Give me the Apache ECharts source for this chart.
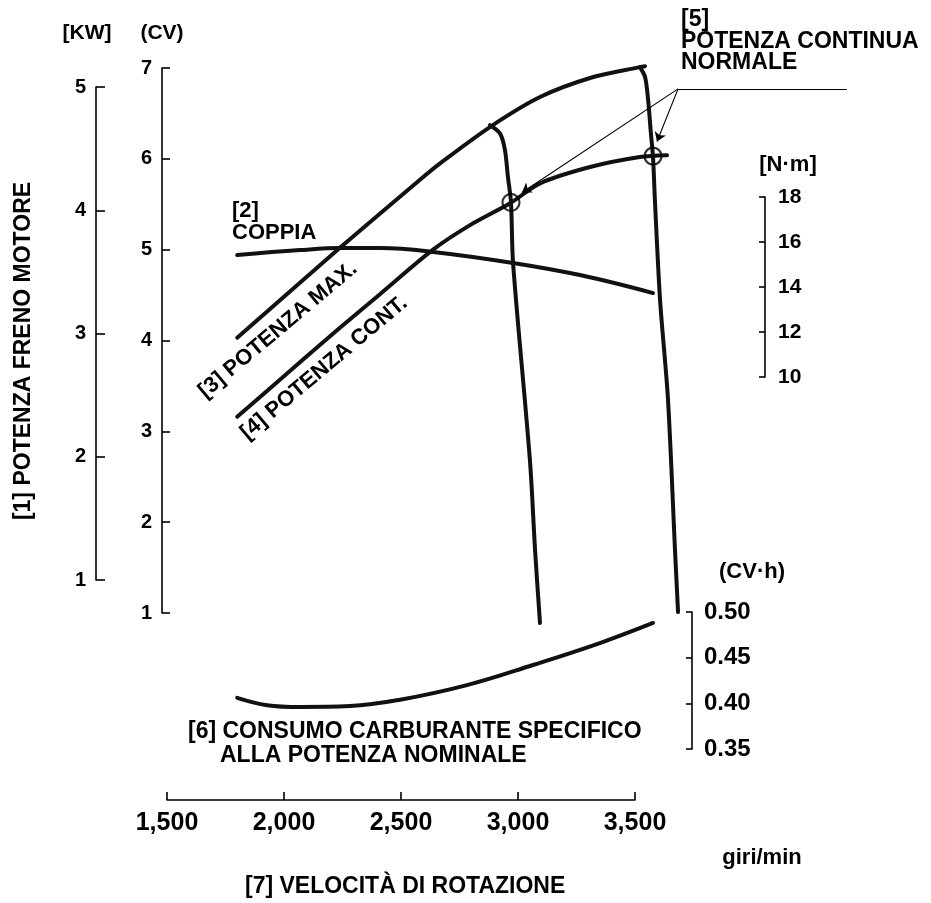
<!DOCTYPE html>
<html>
<head>
<meta charset="utf-8">
<script src="https://cdn.jsdelivr.net/npm/echarts@6/dist/echarts.min.js"></script>
<style>
html,body{margin:0;padding:0;background:#fff;}
#c{width:931px;height:903px;}
</style>
</head>
<body>
<div id="c"></div>
<script>
// ---------- data ----------
const rpmTicks  = [1500, 2000, 2500, 3000, 3500];
const cvTicks   = [1, 2, 3, 4, 5, 6, 7];
const kwTicks   = [1, 2, 3, 4, 5];
const nmTicks   = [10, 12, 14, 16, 18];
const fuelTicks = [0.35, 0.40, 0.45, 0.50];

// [rpm, CV]
const maxPower = [[1800,4.03],[2239,5.02],[2581,5.77],[2667,5.95],[2880,6.35],[3094,6.68],[3308,6.89],[3521,7.01],[3543,7.02]];
const contPower = [[1800,3.16],[2068,3.76],[2239,4.14],[2410,4.51],[2637,5.00],[2795,5.27],[2966,5.51],[3094,5.73],[3308,5.91],[3521,6.02],[3637,6.04]];
const governor3600 = [[3521,7.01],[3543,6.90],[3556,6.65],[3568,6.28],[3577,6.02],[3585,5.55],[3607,4.45],[3641,3.35],[3671,1.69],[3684,1.01]];
const governor3000 = [[2880,6.37],[2923,6.28],[2944,6.10],[2957,5.80],[2970,5.52],[2979,4.85],[3051,2.68],[3073,1.69],[3094,0.89]];
// [rpm, N·m]
const torque = [[1800,15.42],[2068,15.64],[2239,15.73],[2410,15.73],[2637,15.56],[2979,15.07],[3265,14.53],[3577,13.73]];
// [rpm, fuel]
const fuelCons = [[1800,0.406],[1927,0.398],[2068,0.396],[2282,0.397],[2496,0.404],[2782,0.420],[3064,0.442],[3350,0.466],[3577,0.488]];
// rated points and leader lines [rpm, CV]
const ratedPoints = [[2970,5.52],[3577,6.03]];
const leaderJoint = [3684,6.77];
const leaderEnd = [4406,6.77];
const arrowTargets = [[3594,6.19],[3017,5.63]];

// ---------- layout ----------
const FONT = '"Liberation Sans", Arial, Helvetica, sans-serif';
const cvPx = 545 / 6;
const dataX = {min: 1500, max: 4500, left: 167, width: 702};
const dataCV = {min: 0.5, max: 7.5, top: 613 - 6.5 * cvPx, height: 7 * cvPx};

const grids = [];
const xAxes = [];
const yAxes = [];
function addGrid(g, xa, ya) {
  grids.push(Object.assign({outerBoundsMode: 'none', containLabel: false}, g));
  const i = grids.length - 1;
  xAxes.push(Object.assign({gridIndex: i, type: 'value', show: false, splitLine: {show: false}}, xa));
  yAxes.push(Object.assign({gridIndex: i, type: 'value', show: false, splitLine: {show: false}}, ya));
  return i;
}
const axisBase = (fs) => ({
  show: true,
  axisLine: {show: true, lineStyle: {color: '#000', width: 1.6}},
  axisTick: {show: true, inside: true, length: 8, lineStyle: {color: '#000', width: 1.6}},
  splitLine: {show: false},
  axisLabel: {color: '#000', fontFamily: FONT, fontWeight: 'bold', fontSize: fs, margin: 10}
});

// 0: main data grid (CV)
const gData = addGrid({left: dataX.left, width: dataX.width, top: dataCV.top, height: dataCV.height},
  {min: dataX.min, max: dataX.max}, {min: dataCV.min, max: dataCV.max});
// 1: torque data grid
const gTorque = addGrid({left: dataX.left, width: dataX.width, top: 197, height: 180},
  {min: dataX.min, max: dataX.max}, {min: nmTicks[0], max: nmTicks[nmTicks.length-1]});
// 2: fuel data grid
const gFuel = addGrid({left: dataX.left, width: dataX.width, top: 612, height: 137},
  {min: dataX.min, max: dataX.max}, {min: fuelTicks[0], max: fuelTicks[fuelTicks.length-1]});
// 3: KW axis
addGrid({left: 96, width: 1, top: 87, height: 493}, {},
  Object.assign(axisBase(20), {show: true, position: 'left', min: kwTicks[0], max: kwTicks[kwTicks.length-1], interval: 1,
    axisTick: {show: true, inside: true, length: 9, lineStyle: {color: '#000', width: 1.6}}}));
// 4: CV axis
addGrid({left: 162, width: 1, top: 68, height: 545}, {},
  Object.assign(axisBase(20), {show: true, position: 'left', min: cvTicks[0], max: cvTicks[cvTicks.length-1], interval: 1}));
// 5: N·m axis
addGrid({left: 765, width: 1, top: 197, height: 180}, {},
  Object.assign(axisBase(21), {show: true, position: 'right', min: nmTicks[0], max: nmTicks[nmTicks.length-1], interval: 2,
    axisTick: {show: true, inside: true, length: 6, lineStyle: {color: '#000', width: 1.6}},
    axisLabel: {color: '#000', fontFamily: FONT, fontWeight: 'bold', fontSize: 21, margin: 12}}));
// 6: fuel axis
addGrid({left: 692, width: 1, top: 612, height: 137}, {},
  Object.assign(axisBase(24), {show: true, position: 'right', min: fuelTicks[0], max: fuelTicks[fuelTicks.length-1], interval: 0.05,
    axisTick: {show: true, inside: true, length: 6, lineStyle: {color: '#000', width: 1.6}},
    axisLabel: {color: '#000', fontFamily: FONT, fontWeight: 'bold', fontSize: 24, margin: 11,
      formatter: v => Number(v).toFixed(2)}}));
// 7: rpm axis
addGrid({left: dataX.left, width: 468, top: 700, height: 100},
  Object.assign(axisBase(25), {show: true, position: 'bottom', min: rpmTicks[0], max: rpmTicks[rpmTicks.length-1], interval: 500,
    axisLabel: {color: '#000', fontFamily: FONT, fontWeight: 'bold', fontSize: 25, margin: 11,
      formatter: v => String(v).replace(/\B(?=(\d{3})+(?!\d))/g, ',')}}), {});

const curveStyle = {color: '#111', width: 4, cap: 'round', join: 'round'};
function curve(name, data, gi, smooth) {
  return {type: 'line', name, data, xAxisIndex: gi, yAxisIndex: gi, showSymbol: false, symbol: 'none',
    smooth: smooth, clip: false, lineStyle: curveStyle, silent: true, z: 3};
}

const t = (text, x, y, size, extra) => Object.assign({
  type: 'text', x, y,
  style: Object.assign({text, x: 0, y: 0, font: 'bold ' + size + 'px ' + FONT, fill: '#000',
    textAlign: 'center', textVerticalAlign: 'middle'}, (extra && extra.style) || {})
}, extra ? {rotation: extra.rotation || 0} : {});

const deg = Math.PI / 180;
const option = {
  backgroundColor: '#fff',
  animation: false,
  grid: grids, xAxis: xAxes, yAxis: yAxes,
  series: [
    curve('POTENZA MAX.', maxPower, gData, 0.3),
    curve('POTENZA CONT.', contPower, gData, 0.3),
    curve('reg. 3600', governor3600, gData, 0.3),
    curve('reg. 3000', governor3000, gData, 0.3),
    curve('COPPIA', torque, gTorque, 0.4),
    curve('CONSUMO', fuelCons, gFuel, 0.4),
    {type: 'scatter', data: ratedPoints, xAxisIndex: gData, yAxisIndex: gData, symbol: 'circle', symbolSize: 17,
      itemStyle: {color: 'rgba(0,0,0,0)', borderColor: '#000', borderWidth: 2.2}, silent: true, z: 4},
    {type: 'lines', coordinateSystem: 'cartesian2d', xAxisIndex: gData, yAxisIndex: gData, symbol: ['none', 'arrow'], symbolSize: 9,
      lineStyle: {color: '#000', width: 1.1, opacity: 1}, silent: true, z: 5,
      data: arrowTargets.map(p => ({coords: [leaderJoint, p]}))},
    {type: 'lines', coordinateSystem: 'cartesian2d', xAxisIndex: gData, yAxisIndex: gData, symbol: 'none',
      lineStyle: {color: '#000', width: 1.1, opacity: 1}, silent: true, z: 5,
      data: [{coords: [leaderJoint, leaderEnd]}]}
  ],
  graphic: [
    t('[KW]', 87, 33, 21),
    t('(CV)', 162, 33, 21),
    t('[1] POTENZA FRENO MOTORE', 24, 351, 23, {rotation: Math.PI / 2}),
    t('[2]\nCOPPIA', 232, 222, 22, {style: {textAlign: 'left', lineHeight: 22}}),
    t('[3] POTENZA MAX.', 278, 330, 22, {rotation: 40 * deg}),
    t('[4] POTENZA CONT.', 324, 368, 22, {rotation: 40 * deg}),
    t('[5]\nPOTENZA CONTINUA\nNORMALE', 681, 41.5, 23, {style: {textAlign: 'left', lineHeight: 21.5}}),
    t('[N·m]', 788, 165, 22),
    t('(CV·h)', 752, 572, 22),
    t('[6] CONSUMO CARBURANTE SPECIFICO', 188, 732, 23, {style: {textAlign: 'left'}}),
    t('ALLA POTENZA NOMINALE', 220, 756, 23, {style: {textAlign: 'left'}}),
    t('giri/min', 762, 858, 22),
    t('[7] VELOCITÀ DI ROTAZIONE', 245, 887, 23, {style: {textAlign: 'left'}})
  ]
};
const chart = echarts.init(document.getElementById('c'), null, {renderer: 'canvas'});
chart.setOption(option);
</script>
</body>
</html>
